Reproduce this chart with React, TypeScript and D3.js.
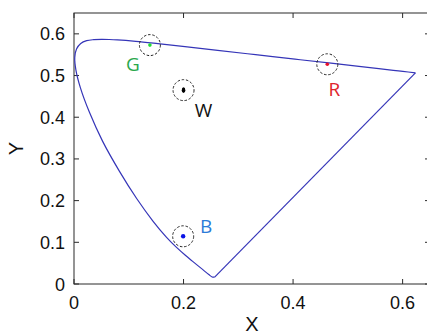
import React, { useRef, useEffect } from 'react';
import * as d3 from 'd3';

// spectral locus (u', v'), 380 nm -> 680 nm
const locusU = [0.2568, 0.2522, 0.2461, 0.2347, 0.2161, 0.2033, 0.1877, 0.169, 0.1441, 0.1147, 0.0828, 0.0521, 0.0282, 0.0119, 0.0035, 0.0014, 0.0046, 0.0123, 0.0231, 0.036, 0.0501, 0.0643, 0.0792, 0.1127, 0.1531, 0.2026, 0.2623, 0.3315, 0.4035, 0.4692, 0.5203, 0.5565, 0.583, 0.6005, 0.6234];
const locusV = [0.0166, 0.0169, 0.0226, 0.035, 0.0549, 0.0688, 0.0871, 0.1119, 0.151, 0.2044, 0.2708, 0.3427, 0.4117, 0.4698, 0.5131, 0.5432, 0.5638, 0.577, 0.5837, 0.5861, 0.5868, 0.5865, 0.5856, 0.5821, 0.5766, 0.5694, 0.5604, 0.5501, 0.5393, 0.5296, 0.5219, 0.5165, 0.5125, 0.5099, 0.5065];

// primaries and white point
const pointNames = ['G', 'R', 'W', 'B'];
const pointU = [0.1386, 0.4625, 0.2, 0.1993];
const pointV = [0.573, 0.527, 0.465, 0.1144];
const dotColors = ['#22dd33', '#e8102a', '#000000', '#0a14e6'];
const labelColors = ['#2aa84c', '#e0242c', '#111111', '#2b7bd8'];
// label offsets in px from the point
const labelDx = [-17, 7, 20, 23];
const labelDy = [26, 32, 27, -3];

const xTicks = [0, 0.2, 0.4, 0.6];
const yTicks = [0, 0.1, 0.2, 0.3, 0.4, 0.5, 0.6];

export default function App({ width = 427, height = 335, margin = { top: 13, right: -3, bottom: 51, left: 74 } }) {
    const svgRef = useRef<SVGSVGElement>(null);

    useEffect(() => {
        const svg = d3.select(svgRef.current);
        svg.selectAll('*').remove();

        const x = d3.scaleLinear().domain([0, 0.65]).range([margin.left, width - margin.right]);
        const y = d3.scaleLinear().domain([0, 0.65]).range([height - margin.bottom, margin.top]);

        const axisColor = '#2a2a2a';
        const font = 'Liberation Sans, Arial, sans-serif';
        const x0 = x(0), x1 = x(0.65), y0 = y(0), y1 = y(0.65);
        const tickLen = 5;

        // box
        svg.append('rect')
            .attr('x', x0).attr('y', y1)
            .attr('width', x1 - x0).attr('height', y0 - y1)
            .attr('fill', 'white')
            .attr('stroke', axisColor)
            .attr('stroke-width', 1);

        // ticks (inward on all four sides)
        const tg = svg.append('g').attr('stroke', axisColor).attr('stroke-width', 1);
        xTicks.forEach(t => {
            tg.append('line').attr('x1', x(t)).attr('x2', x(t)).attr('y1', y0).attr('y2', y0 - tickLen);
            tg.append('line').attr('x1', x(t)).attr('x2', x(t)).attr('y1', y1).attr('y2', y1 + tickLen);
        });
        yTicks.forEach(t => {
            tg.append('line').attr('x1', x0).attr('x2', x0 + tickLen).attr('y1', y(t)).attr('y2', y(t));
            tg.append('line').attr('x1', x1).attr('x2', x1 - tickLen).attr('y1', y(t)).attr('y2', y(t));
        });

        // tick labels
        svg.append('g')
            .selectAll('text')
            .data(xTicks)
            .join('text')
            .attr('x', d => x(d))
            .attr('y', y0 + 25)
            .attr('text-anchor', 'middle')
            .attr('font-size', 18)
            .attr('font-family', font)
            .attr('fill', '#111')
            .text(d => d === 0 ? '0' : d.toFixed(1));

        svg.append('g')
            .selectAll('text')
            .data(yTicks)
            .join('text')
            .attr('x', x0 - 9)
            .attr('y', d => y(d) + 6.5)
            .attr('text-anchor', 'end')
            .attr('font-size', 18)
            .attr('font-family', font)
            .attr('fill', '#111')
            .text(d => d === 0 ? '0' : d.toFixed(1));

        // axis titles
        svg.append('text')
            .attr('x', (x0 + x1) / 2)
            .attr('y', y0 + 47)
            .attr('text-anchor', 'middle')
            .attr('font-size', 20)
            .attr('font-family', font)
            .attr('fill', '#111')
            .text('X');

        svg.append('text')
            .attr('transform', `translate(23,${(y0 + y1) / 2}) rotate(-90)`)
            .attr('text-anchor', 'middle')
            .attr('font-size', 20)
            .attr('font-family', font)
            .attr('fill', '#111')
            .text('Y');

        // spectral locus
        const locus = locusU.map((u, i) => [u, locusV[i]] as [number, number]);
        const line = d3.line<[number, number]>()
            .x(d => x(d[0]))
            .y(d => y(d[1]))
            .curve(d3.curveCatmullRom);

        svg.append('path')
            .datum(locus)
            .attr('fill', 'none')
            .attr('stroke', '#3535b8')
            .attr('stroke-width', 1.2)
            .attr('d', line);

        // purple line closing the gamut
        svg.append('path')
            .datum([locus[locus.length - 1], locus[0]])
            .attr('fill', 'none')
            .attr('stroke', '#3535b8')
            .attr('stroke-width', 1.2)
            .attr('d', d3.line<[number, number]>().x(d => x(d[0])).y(d => y(d[1])));

        // points with dashed circles and labels
        const pg = svg.append('g');
        pointNames.forEach((name, i) => {
            const px = x(pointU[i]), py = y(pointV[i]);
            pg.append('circle')
                .attr('cx', px).attr('cy', py).attr('r', 10.5)
                .attr('fill', 'none')
                .attr('stroke', '#222')
                .attr('stroke-width', 1)
                .attr('stroke-dasharray', '2.5,1.8');
            if (name === 'W') {
                pg.append('ellipse')
                    .attr('cx', px).attr('cy', py).attr('rx', 1.8).attr('ry', 2.8)
                    .attr('fill', dotColors[i]);
            } else {
                pg.append('circle')
                    .attr('cx', px).attr('cy', py).attr('r', name === 'B' ? 2.2 : 1.8)
                    .attr('fill', dotColors[i]);
            }
            pg.append('text')
                .attr('x', px + labelDx[i])
                .attr('y', py + labelDy[i])
                .attr('text-anchor', 'middle')
                .attr('font-size', 19)
                .attr('font-family', 'Open Sans, sans-serif')
                .attr('fill', labelColors[i])
                .text(name);
        });
    }, []);

    return (
        <svg
            ref={svgRef}
            width={width}
            height={height}
            style={{ position: 'absolute', left: 0, top: 0, display: 'block', background: 'white' }}
        />
    );
}
